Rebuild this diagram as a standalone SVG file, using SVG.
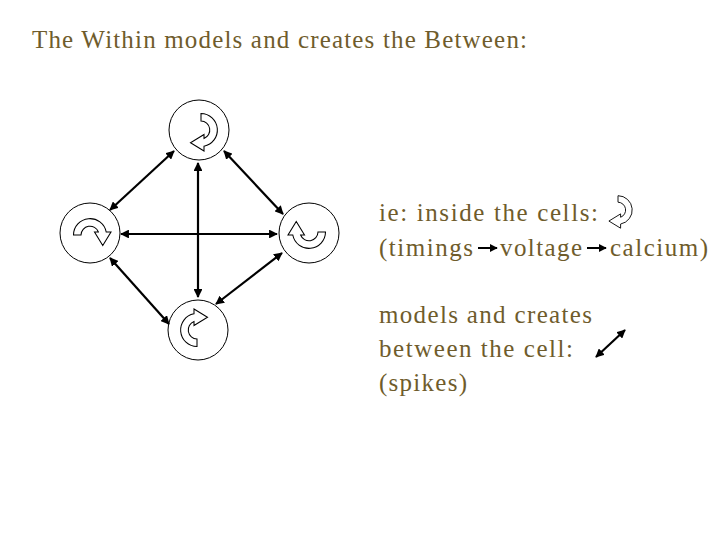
<svg xmlns="http://www.w3.org/2000/svg" width="720" height="540" viewBox="0 0 720 540">
<style>
.t{font-family:"Liberation Serif",serif;font-size:25px;fill:#6f5c2c}
.n{fill:#fff;stroke:#000;stroke-width:1}
.c{stroke:#000;stroke-width:2.2;fill:none;marker-start:url(#a);marker-end:url(#a)}
.i{fill:#fff;stroke:#000;stroke-width:0.7}
</style>
<defs>
<marker id="a" viewBox="0 0 10 10" refX="9" refY="5" markerWidth="4" markerHeight="4" orient="auto-start-reverse"><path d="M0,0L10,5L0,10Z"/></marker>
<marker id="s" viewBox="0 0 10 10" refX="9" refY="5" markerWidth="4" markerHeight="4" orient="auto"><path d="M0,0L10,5L0,10Z"/></marker>
<path id="ca" d="M0,-11 A11,11 0 0,1 2,10.8 L2,14 L-7,8.5 L2,3 L2,5.6 A6,6 0 0,0 0,-6 Z"/>
</defs>
<text class="t" x="32" y="48" textLength="495" lengthAdjust="spacing">The Within models and creates the Between:</text>
<g id="nodes">
<g id="n-top"><circle class="n" cx="199" cy="130" r="30"/><use href="#ca" class="i" transform="translate(201,130) scale(1.5)"/></g>
<g id="n-left"><circle class="n" cx="90" cy="233" r="30"/><use href="#ca" class="i" transform="translate(90,235) rotate(-90) scale(1.5)"/></g>
<g id="n-right"><circle class="n" cx="309" cy="233" r="30"/><use href="#ca" class="i" transform="translate(309,232) rotate(90) scale(1.5)"/></g>
<g id="n-bottom"><circle class="n" cx="198" cy="330" r="30"/><use href="#ca" class="i" transform="translate(197,330) rotate(180) scale(1.5)"/></g>
</g>
<g id="connectors">
<line class="c" x1="174" y1="151" x2="110" y2="210"/>
<line class="c" x1="224" y1="151" x2="283" y2="214"/>
<line class="c" x1="198" y1="163" x2="198" y2="297"/>
<line class="c" x1="121" y1="234" x2="277" y2="234"/>
<line class="c" x1="110" y1="258" x2="169" y2="324"/>
<line class="c" x1="282" y1="253" x2="216" y2="304"/>
</g>
<g id="text-right">
<text class="t" x="379" y="221" textLength="219" lengthAdjust="spacing">ie:  inside the cells:</text>
<use href="#ca" class="i" transform="translate(618,210) scale(1.3)"/>
<text class="t" x="379" y="256" fill="#3a3a78" textLength="94" lengthAdjust="spacing">(timings</text>
<text class="t" x="500" y="256" fill="#a8343a" textLength="82" lengthAdjust="spacing">voltage</text>
<text class="t" x="610" y="256" fill="#b055b5" textLength="98" lengthAdjust="spacing">calcium)</text>
<line x1="478" y1="248" x2="497" y2="248" stroke="#000" stroke-width="2" marker-end="url(#s)"/>
<line x1="587" y1="248" x2="606" y2="248" stroke="#000" stroke-width="2" marker-end="url(#s)"/>
<text class="t" x="379" y="323" textLength="213" lengthAdjust="spacing">models and creates</text>
<text class="t" x="379" y="357" textLength="194" lengthAdjust="spacing">between the cell:</text>
<text class="t" x="379" y="391" textLength="88" lengthAdjust="spacing">(spikes)</text>
<line class="c" x1="596" y1="357" x2="625" y2="330"/>
</g>
</svg>
